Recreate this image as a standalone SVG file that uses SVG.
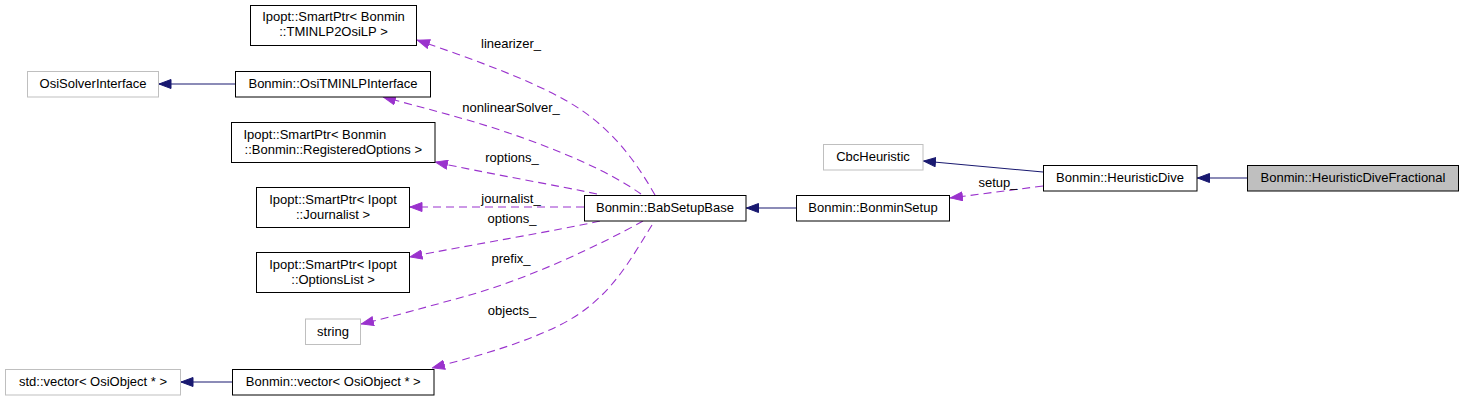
<svg xmlns="http://www.w3.org/2000/svg" width="1464" height="401" viewBox="0 0 1464 401">
<style>
  .box { fill: #ffffff; stroke: #000000; stroke-width: 1; }
  .gbox { fill: #ffffff; stroke: #bfbfbf; stroke-width: 1; }
  .cur { fill: #bfbfbf; stroke: #000000; stroke-width: 1; }
  text { font-family: "Liberation Sans", Arial, sans-serif; font-size: 13px; fill: #000000; }
  .c { text-anchor: middle; }
  .inh { fill: none; stroke: #191970; stroke-width: 1.1; marker-end: url(#ah-navy); }
  .use { fill: none; stroke: #9a32cd; stroke-width: 1.1; stroke-dasharray: 8,5; marker-end: url(#ah-purple); }
</style>
<defs>
  <marker id="ah-navy" viewBox="0 0 13 10" refX="13" refY="5" markerWidth="13" markerHeight="10" markerUnits="userSpaceOnUse" orient="auto">
    <path d="M0.5,0.5 L12.5,5 L0.5,9.5 z" fill="#191970" stroke="#191970"/>
  </marker>
  <marker id="ah-purple" viewBox="0 0 13 10" refX="13" refY="5" markerWidth="13" markerHeight="10" markerUnits="userSpaceOnUse" orient="auto">
    <path d="M0.5,0.5 L12.5,5 L0.5,9.5 z" fill="#9a32cd" stroke="#9a32cd"/>
  </marker>
</defs>
<rect width="1464" height="401" fill="#ffffff"/>
<g id="connectors">
  <path class="inh" d="M1248,178 L1197,178"/>
  <path class="inh" d="M1043,172 L923,161"/>
  <path class="use" d="M1043,186 L950,198"/>
  <path class="inh" d="M797,208 L746,208"/>
  <path class="inh" d="M236,84 L158.5,84"/>
  <path class="inh" d="M232,382 L180.5,382"/>
  <path class="use" d="M655,195 C635,160 610,125 565,100 C530,80 470,58 417,40"/>
  <path class="use" d="M641,194 C610,172 560,150 500,130 C460,117 420,107 383,97"/>
  <path class="use" d="M597,194 C560,186 480,172 435,162"/>
  <path class="use" d="M584,207 L409.5,207"/>
  <path class="use" d="M600,221 C560,230 470,245 409.5,257"/>
  <path class="use" d="M643,221 C600,245 530,278 470,295 C430,306 395,316 361,324"/>
  <path class="use" d="M652,225 C630,260 610,300 560,325 C520,345 470,358 432,368"/>
  <text class="c" x="998" y="187">setup_</text>
  <text class="c" x="511" y="48">linearizer_</text>
  <text class="c" x="511" y="112">nonlinearSolver_</text>
  <text class="c" x="512" y="162">roptions_</text>
  <text class="c" x="511" y="203">journalist_</text>
  <text class="c" x="512" y="223">options_</text>
  <text class="c" x="511" y="263">prefix_</text>
  <text class="c" x="512" y="315">objects_</text>
</g>
<g id="node-HeuristicDiveFractional">
  <rect class="cur" x="1247.5" y="165.5" width="211" height="25.5"/>
  <text class="c" x="1353" y="182">Bonmin::HeuristicDiveFractional</text>
</g>
<g id="node-HeuristicDive">
  <rect class="box" x="1043.5" y="165.5" width="153.5" height="25.5"/>
  <text class="c" x="1120" y="182">Bonmin::HeuristicDive</text>
</g>
<g id="node-CbcHeuristic">
  <rect class="gbox" x="823.5" y="144.5" width="99.5" height="25.5"/>
  <text class="c" x="873" y="161">CbcHeuristic</text>
</g>
<g id="node-BonminSetup">
  <rect class="box" x="796.5" y="195.5" width="153" height="25.5"/>
  <text class="c" x="873" y="212">Bonmin::BonminSetup</text>
</g>
<g id="node-BabSetupBase">
  <rect class="box" x="584.5" y="195.5" width="161.5" height="25.5"/>
  <text class="c" x="665" y="212">Bonmin::BabSetupBase</text>
</g>
<g id="node-SmartPtrTMINLP2OsiLP">
  <rect class="box" x="250.5" y="5.5" width="166" height="40"/>
  <text class="c" x="333.5" y="21">Ipopt::SmartPtr&lt; Bonmin</text>
  <text class="c" x="333.5" y="36">::TMINLP2OsiLP &gt;</text>
</g>
<g id="node-OsiSolverInterface">
  <rect class="gbox" x="27.5" y="71.5" width="131" height="25.5"/>
  <text class="c" x="93" y="88">OsiSolverInterface</text>
</g>
<g id="node-OsiTMINLPInterface">
  <rect class="box" x="235.5" y="71.5" width="195" height="25.5"/>
  <text class="c" x="333" y="88">Bonmin::OsiTMINLPInterface</text>
</g>
<g id="node-SmartPtrRegisteredOptions">
  <rect class="box" x="231.5" y="122.5" width="203.5" height="40"/>
  <text x="243.5" y="139">Ipopt::SmartPtr&lt; Bonmin</text>
  <text class="c" x="333.3" y="154">::Bonmin::RegisteredOptions &gt;</text>
</g>
<g id="node-SmartPtrJournalist">
  <rect class="box" x="256.5" y="187.5" width="153" height="40"/>
  <text class="c" x="333" y="203.5">Ipopt::SmartPtr&lt; Ipopt</text>
  <text class="c" x="333" y="218.5">::Journalist &gt;</text>
</g>
<g id="node-SmartPtrOptionsList">
  <rect class="box" x="256.5" y="252.5" width="153" height="40"/>
  <text class="c" x="333" y="268.5">Ipopt::SmartPtr&lt; Ipopt</text>
  <text class="c" x="333" y="283.5">::OptionsList &gt;</text>
</g>
<g id="node-string">
  <rect class="gbox" x="305.5" y="319" width="55" height="25.5"/>
  <text class="c" x="333" y="335.5">string</text>
</g>
<g id="node-stdvector">
  <rect class="gbox" x="5.5" y="369.5" width="175" height="25.5"/>
  <text class="c" x="93" y="386">std::vector&lt; OsiObject * &gt;</text>
</g>
<g id="node-Bonminvector">
  <rect class="box" x="232.5" y="369.5" width="201.5" height="25.5"/>
  <text class="c" x="333.3" y="386">Bonmin::vector&lt; OsiObject * &gt;</text>
</g>
</svg>
